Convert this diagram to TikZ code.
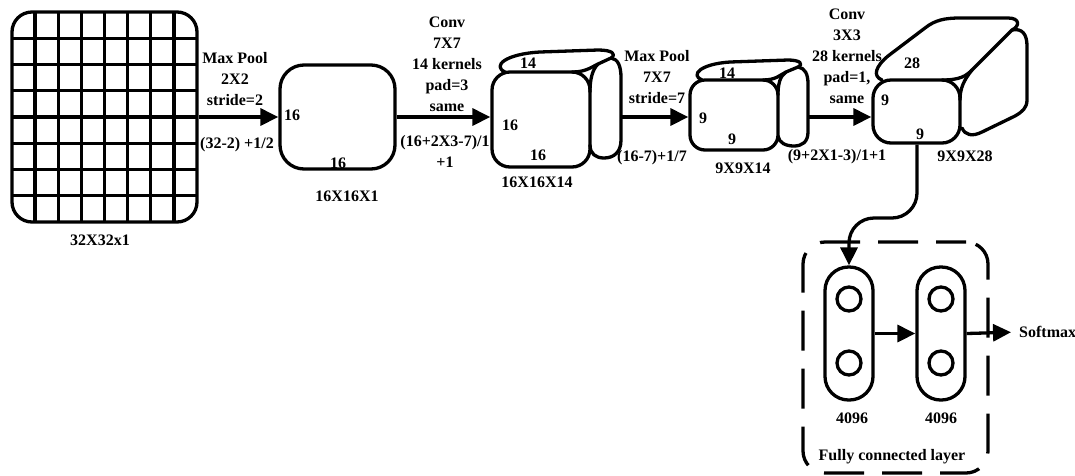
\documentclass[tikz,border=0pt]{standalone}
\usepackage{fontspec}
\setmainfont{Liberation Serif}
\usetikzlibrary{arrows.meta}
\tikzset{
  ln/.style={line width=3.3pt, line join=round, line cap=round},
  arr/.style={line width=3.3pt, -{Triangle[length=18pt,width=17pt]}},
  lbl/.style={font=\bfseries\fontsize{16}{21}\selectfont, inner sep=0pt, align=center},
  face/.style={draw, line width=3.3pt, rounded corners=#1, inner sep=0pt},
  pill/.style={draw, line width=3.3pt, rounded corners=23.5pt, minimum width=48pt, minimum height=133pt, inner sep=0pt},
  neuron/.style={draw, line width=3.3pt, circle, minimum size=24pt, inner sep=0pt},
  fcbox/.style={draw, line width=3.3pt, rounded corners=22pt, dash pattern=on 40pt off 18pt, dash phase=10pt, minimum width=185pt, minimum height=231pt, inner sep=0pt}
}
\begin{document}
\begin{tikzpicture}[x=1pt,y=-1pt]
\useasboundingbox (0,0) rectangle (1075,475);

% ---- input grid ----
\node[face=20pt, minimum width=185pt, minimum height=210pt] (grid) at (104.5,117) {};
\foreach \i in {1,...,7} {
  \draw[line width=3.3pt] (12+\i*23.125,12) -- (12+\i*23.125,222);
  \draw[line width=3.3pt] (12,12+\i*26.25) -- (197,12+\i*26.25);
}
\node[lbl] (t32) at (100,240) {32X32x1};

% ---- 16x16x1 ----
\node[face=24pt, minimum width=115pt, minimum height=104pt] (b2) at (337.5,117) {};
\node[lbl] (b2l) at (292,115) {16};
\node[lbl] (b2b) at (338,163) {16};
\node[lbl] (t16a) at (347,196) {16X16X1};

% ---- cube 16x16x14 ----
\node[face=18pt, minimum width=98pt, minimum height=95pt] (f3) at (541,119.5) {};
\draw[ln] (505,72) .. controls (492,66) and (505,54) .. (540,52) -- (598,50) .. controls (612,50) and (617,54) .. (611,58) -- (598,64) .. controls (590,68) and (585,72) .. (572,72);
\draw[ln] (611,58) .. controls (618,59) and (621,66) .. (621,78) -- (621,140) .. controls (621,152) and (614,158) .. (604,158) .. controls (596,158) and (590,154) .. (590,145);
\draw[ln] (598,64) .. controls (592,70) and (590,80) .. (590,92);
\coordinate (r3) at (621,117);
\node[lbl] (c3t) at (528,63) {14};
\node[lbl] (c3l) at (510,125) {16};
\node[lbl] (c3b) at (538,155) {16};
\node[lbl] (t16b) at (537,182) {16X16X14};

% ---- cube 9x9x14 ----
\node[face=15pt, minimum width=88pt, minimum height=70pt] (f4) at (734,115) {};
\draw[ln] (702,80) .. controls (690,75) and (700,64) .. (730,62) -- (788,60) .. controls (800,60) and (804,64) .. (798,67) -- (786,72) .. controls (780,75) and (776,80) .. (763,80);
\draw[ln] (798,67) .. controls (805,68) and (808,74) .. (808,84) -- (808,132) .. controls (808,142) and (802,146) .. (794,146) .. controls (786,146) and (779,143) .. (778,136);
\draw[ln] (786,72) .. controls (780,76) and (778,84) .. (778,95);
\coordinate (r4) at (808,117);
\node[lbl] (c4t) at (727,73) {14};
\node[lbl] (c4l) at (703,118) {9};
\node[lbl] (c4b) at (732,139) {9};
\node[lbl] (t9a) at (743,168) {9X9X14};

% ---- cube 9x9x28 ----
\node[face=18pt, minimum width=87pt, minimum height=63pt] (f5) at (916.5,111.5) {};
\draw[ln] (882,80) .. controls (872,76) and (876,66) .. (888,56) -- (925,28) .. controls (935,20) and (945,18) .. (960,18) -- (1008,18) .. controls (1020,18) and (1020,26) .. (1012,30) -- (972,70) .. controls (966,76) and (960,80) .. (942,80);
\draw[ln] (1012,30) .. controls (1022,28) and (1027,34) .. (1027,46) -- (1027,100) .. controls (1027,108) and (1022,112) .. (1015,116) -- (982,132) .. controls (972,137) and (965,135) .. (962,128);
\draw[ln] (972,70) .. controls (964,80) and (960,88) .. (960,100);
\node[lbl] (c5t) at (912,63) {28};
\node[lbl] (c5l) at (885,100) {9};
\node[lbl] (c5b) at (920,134) {9};
\node[lbl] (t9b) at (965,156) {9X9X28};

% ---- arrows between stages ----
\draw[arr] (grid.east |- 0,117) -- (b2.west |- 0,117);
\draw[arr] (b2.east |- 0,117) -- (f3.west |- 0,117);
\draw[arr] (r3) -- (f4.west |- r3);
\draw[arr] (r4) -- (f5.west |- r4);

\node[lbl] (mp1) at (235,79) {Max Pool\\2X2\\stride=2};
\node[lbl] (mp1f) at (237,145) {(32-2) +1/2};
\node[lbl] (cv1) at (447,64.5) {Conv\\7X7\\14 kernels\\pad=3\\same};
\node[lbl] (cv1f) at (445,151) {(16+2X3-7)/1\\+1};
\node[lbl] (mp2) at (657,77) {Max Pool\\7X7\\stride=7};
\node[lbl] (mp2f) at (652,158) {(16-7)+1/7};
\node[lbl] (cv2) at (847,56) {Conv\\3X3\\28 kernels\\pad=1,\\same};
\node[lbl] (cv2f) at (837,157) {(9+2X1-3)/1+1};

% ---- fully connected part ----
\node[fcbox] (fc) at (895.5,357.5) {};
\node[pill] (p1) at (849,333.5) {};
\node[pill] (p2) at (941,333.5) {};
\node[neuron] (n11) at (849,299) {};
\node[neuron] (n12) at (849,363) {};
\node[neuron] (n21) at (941,299) {};
\node[neuron] (n22) at (941,363) {};
\draw[arr, rounded corners=25pt] (f5.south -| 917,0) -- (917,218) -- (849,218) -- (p1.north);
\draw[arr] (p1.east) -- (p2.west);
\node[lbl, anchor=west] (sm) at (1019,332) {Softmax};
\draw[arr, shorten >=8pt] (p2.east) -- (sm.west);
\node[lbl] (u1) at (852,418) {4096};
\node[lbl] (u2) at (941,418) {4096};
\node[lbl] (fcl) at (892,457) {Fully connected layer};
\end{tikzpicture}
\end{document}
